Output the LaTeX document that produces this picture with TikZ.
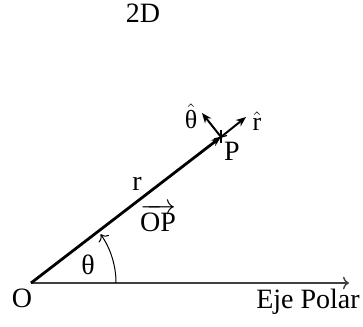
\documentclass[tikz,border=0pt]{standalone}
\usepackage{fontspec}
\setmainfont{Liberation Serif}
\usetikzlibrary{arrows.meta,calc}

\tikzset{
  lbl/.style={font=\fontsize{14}{16}\selectfont, inner sep=0pt},
  unitvec/.style={-{Stealth[length=5pt,width=4pt]}, line width=1pt},
}

\begin{document}
\begin{tikzpicture}[x=0.5pt,y=-0.5pt]
  \useasboundingbox (0,0) rectangle (363,326);
  \coordinate (O) at (31,283);
  \coordinate (P) at (221,137);
  \coordinate (E) at (349,283);
  \coordinate (R) at (246,117);
  \coordinate (T) at (202,113);

  % Polar axis
  \draw[line width=0.7pt, black!75, -{To[length=3pt]}] (O) -- (E);

  % Position vector
  \draw[line width=1.4pt, -{Stealth[length=5pt,width=3.6pt]}] (O) -- (P);
  \draw[line width=0.6pt] ($(P)+(-7,2)$) -- ($(P)+(6,-1.5)$);
  \draw[line width=0.6pt] ($(P)+(0,-7)$) -- ($(P)+(0,6)$);

  % Unit vectors
  \draw[unitvec] (P) -- (R);
  \draw[unitvec] (P) -- (T);

  % Angle
  \draw[line width=0.5pt, -{To[length=3pt]}] ([shift={(0:85)}]O) arc[start angle=0, end angle=-35, radius=85];

  % Labels
  \node[lbl] (title) at (143,13) {2D};
  \node[lbl] (o) at (22,298) {O};
  \node[lbl] (axis) at (308,302) {Eje Polar};
  \node[lbl] (theta) at (88,265) {θ};
  \node[lbl] (r) at (137,184) {r};
  \node[lbl] (op) at (158,218) {$\overrightarrow{\mbox{OP}}$};
  \node[lbl] (p) at (232,151) {P};
  \node[lbl, font=\fontsize{13}{15}\selectfont] (that) at (191,116) {$\hat{\mbox{θ}}$};
  \node[lbl, font=\fontsize{13}{15}\selectfont] (rhat) at (257,121) {$\hat{\mbox{r}}$};
\end{tikzpicture}
\end{document}
